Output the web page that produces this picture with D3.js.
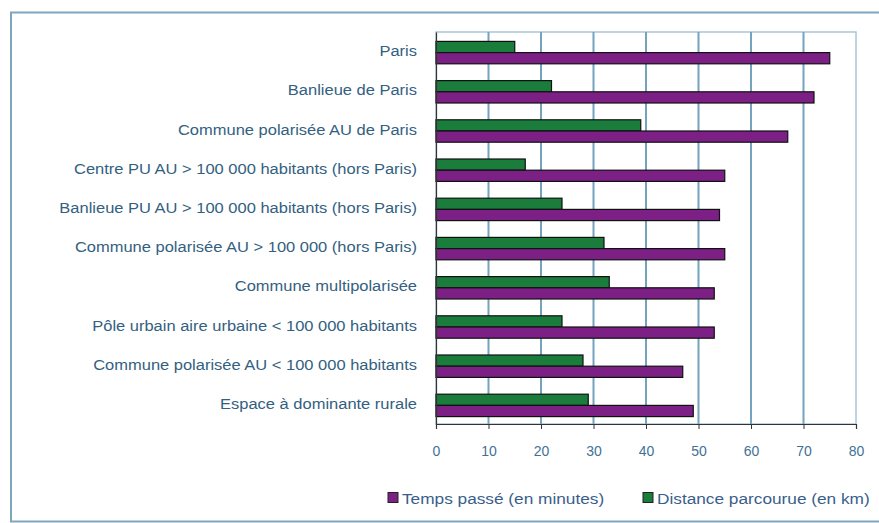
<!DOCTYPE html>
<html><head><meta charset="utf-8">
<script src="https://cdn.jsdelivr.net/npm/d3@7"></script>
<style>body{margin:0;background:#fff}svg{display:block}</style>
</head><body>
<svg id="c" width="879" height="523"></svg>
<script>
const categories = [
  "Paris",
  "Banlieue de Paris",
  "Commune polarisée AU de Paris",
  "Centre PU AU > 100 000 habitants (hors Paris)",
  "Banlieue PU AU > 100 000 habitants (hors Paris)",
  "Commune polarisée AU > 100 000 (hors Paris)",
  "Commune multipolarisée",
  "Pôle urbain aire urbaine < 100 000 habitants",
  "Commune polarisée AU < 100 000 habitants",
  "Espace à dominante rurale"
];
const distanceKm = [15, 22, 39, 17, 24, 32, 33, 24, 28, 29];
const tempsMin = [75, 72, 67, 55, 54, 55, 53, 53, 47, 49];
const seriesNames = ["Temps passé (en minutes)", "Distance parcourue (en km)"];
const xTicks = [0, 10, 20, 30, 40, 50, 60, 70, 80];

(function(){
const svg = d3.select("#c");
const W = 879, H = 523;
const pL = 436, pR = 856, pT = 32, pB = 424;
const purple = "#7c2086", green = "#1a7d3c", grid = "#74a3bd";
const font = "Liberation Sans, Arial, sans-serif";

svg.append("rect").attr("x",0).attr("y",0).attr("width",W).attr("height",H).attr("fill","#fff");
// outer frame
svg.append("rect").attr("x",11).attr("y",12.5).attr("width",900).attr("height",509)
  .attr("fill","none").attr("stroke","#7ea7bd").attr("stroke-width",2);

const x = d3.scaleLinear().domain([0,80]).range([pL,pR]);
const y = d3.scaleBand().domain(categories).range([pT,pB]).paddingInner(0.4286).paddingOuter(0.2143);
const ys = d3.scaleBand().domain(["dist","temps"]).range([0,y.bandwidth()]);

// plot area border
svg.append("rect").attr("x",pL).attr("y",pT).attr("width",pR-pL).attr("height",pB-pT)
  .attr("fill","#fff").attr("stroke","#a9c6d6").attr("stroke-width",1.5);
// gridlines
svg.append("g").selectAll("line").data(xTicks.slice(1,-1)).join("line")
  .attr("x1",d=>x(d)).attr("x2",d=>x(d)).attr("y1",pT).attr("y2",pB)
  .attr("stroke",grid).attr("stroke-width",2);

const rows = categories.map((c,i)=>({c, dist:distanceKm[i], temps:tempsMin[i]}));
const g = svg.append("g");
g.selectAll("rect.d").data(rows).join("rect").attr("class","d")
  .attr("x",x(0)).attr("y",d=>y(d.c)+ys("dist")+1).attr("width",d=>x(d.dist)-x(0)).attr("height",ys.bandwidth())
  .attr("fill",green).attr("stroke","#111").attr("stroke-width",1.2);
g.selectAll("rect.t").data(rows).join("rect").attr("class","t")
  .attr("x",x(0)).attr("y",d=>y(d.c)+ys("temps")+1).attr("width",d=>x(d.temps)-x(0)).attr("height",ys.bandwidth())
  .attr("fill",purple).attr("stroke","#111").attr("stroke-width",1.2);

// x axis
const xa = svg.append("g").attr("transform",`translate(0,${pB})`)
  .call(d3.axisBottom(x).tickValues(xTicks).tickSize(5).tickPadding(17));
xa.select(".domain").attr("stroke","#333").attr("stroke-width",1.2);
xa.selectAll(".tick line").attr("stroke","#333");
xa.selectAll("text").attr("fill","#3f7196").attr("font-family",font).attr("font-size",14);
// y axis
const sx = 1.137;
const ya = svg.append("g").attr("transform",`translate(${pL},0)`)
  .call(d3.axisLeft(y).tickSize(0).tickPadding(19));
ya.select(".domain").attr("stroke","#333").attr("stroke-width",1.2);
ya.selectAll("text").attr("fill","#33607f").attr("font-family",font).attr("font-size",14.5)
  .attr("x",-19/sx).attr("transform",`scale(${sx},1)`);

// legend
const ls = 1.15;
const leg = svg.append("g").attr("font-family",font).attr("font-size",15);
const legItems = [{n:seriesNames[0],c:purple,x:388},{n:seriesNames[1],c:green,x:643}];
leg.selectAll("rect").data(legItems).join("rect")
  .attr("x",d=>d.x).attr("y",492.5).attr("width",10).attr("height",10).attr("fill",d=>d.c).attr("stroke","#222");
leg.selectAll("text").data(legItems).join("text")
  .attr("x",d=>(d.x+14)/ls).attr("y",504).attr("transform",`scale(${ls},1)`).attr("fill","#3a5e8c").text(d=>d.n);
})();
</script>
</body></html>
